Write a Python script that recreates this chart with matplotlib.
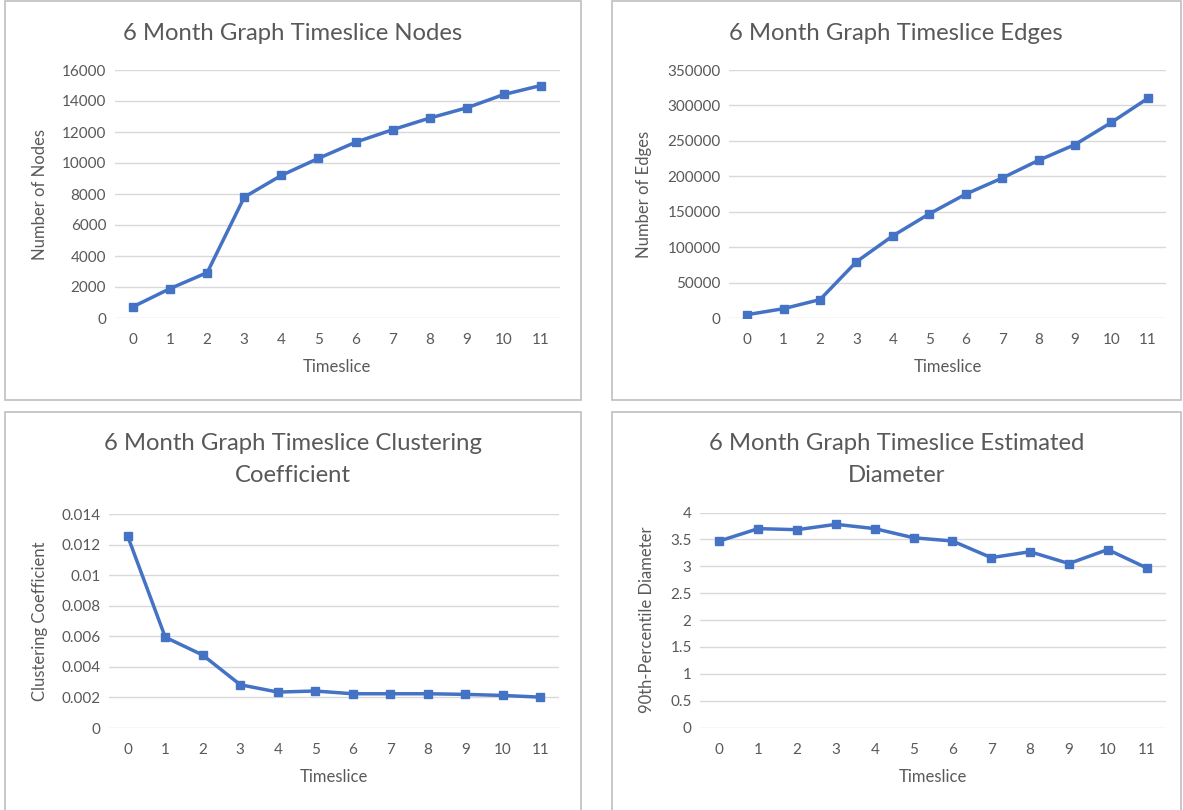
import matplotlib
matplotlib.use("Agg")
import matplotlib.pyplot as plt
from matplotlib.patches import Rectangle
import numpy as np

plt.rcParams['font.family'] = ['Lato', 'DejaVu Sans']

# ---- data ----
timeslices = list(range(12))
tick_labels = [str(t) for t in timeslices]

nodes = [730, 1900, 2930, 7800, 9200, 10300, 11340, 12150, 12900, 13560, 14420, 15000]
edges = [4700, 13200, 26000, 79400, 116000, 147000, 174800, 197500, 222500, 244700, 276000, 310000]
clustering = [0.01254, 0.00594, 0.00477, 0.00283, 0.00235, 0.00242, 0.00224, 0.00224,
              0.00224, 0.00220, 0.00213, 0.00202]
diameter = [3.47, 3.70, 3.68, 3.78, 3.70, 3.53, 3.47, 3.16, 3.27, 3.05, 3.31, 2.97]

titles = ["6 Month Graph Timeslice Nodes",
          "6 Month Graph Timeslice Edges",
          "6 Month Graph Timeslice Clustering\nCoefficient",
          "6 Month Graph Timeslice Estimated\nDiameter"]
ylabels = ["Number of Nodes", "Number of Edges", "Clustering Coefficient",
           "90th-Percentile Diameter"]
xlabel = "Timeslice"

node_ticks = [0, 2000, 4000, 6000, 8000, 10000, 12000, 14000, 16000]
edge_ticks = [0, 50000, 100000, 150000, 200000, 250000, 300000, 350000]
clust_ticks = [0, 0.002, 0.004, 0.006, 0.008, 0.01, 0.012, 0.014]
clust_tick_labels = ["0", "0.002", "0.004", "0.006", "0.008", "0.01", "0.012", "0.014"]
diam_ticks = [0, 0.5, 1, 1.5, 2, 2.5, 3, 3.5, 4]
diam_tick_labels = ["0", "0.5", "1", "1.5", "2", "2.5", "3", "3.5", "4"]

# ---- style ----
W, H = 1183, 810
TEXT = "#595959"
GRID = "#d9d9d9"
BORDER = "#bfbfbf"
LINE = "#4472C4"

fig = plt.figure(figsize=(W / 100, H / 100), dpi=100)
fig.patch.set_facecolor("white")


def fx(x):
    return x / W


def fy(y):
    return 1 - y / H


def axes_px(x0, y0, x1, y1):
    return fig.add_axes([fx(x0), fy(y1), (x1 - x0) / W, (y1 - y0) / H])


def border(x0, y0, x1, y1):
    fig.patches.append(Rectangle((fx(x0), fy(y1)), (x1 - x0) / W, (y1 - y0) / H,
                                 transform=fig.transFigure, fill=False,
                                 edgecolor=BORDER, linewidth=1.2))


panels = [
    dict(box=(4.5, 1.5, 581, 400), ax=(114.5, 70, 559.5, 318), vals=nodes,
         ticks=node_ticks, tl=[str(t) for t in node_ticks], ty=[33], ylx=40, xly=367),
    dict(box=(611.5, 1.5, 1181, 400), ax=(729, 70, 1166, 318), vals=edges,
         ticks=edge_ticks, tl=[str(t) for t in edge_ticks], ty=[33], ylx=644, xly=367),
    dict(box=(4.5, 411.5, 581, 812), ax=(109, 514, 559, 728), vals=clustering,
         ticks=clust_ticks, tl=clust_tick_labels, ty=[443, 475], ylx=40, xly=777),
    dict(box=(611.5, 411.5, 1181, 812), ax=(700, 512.5, 1166, 727.5), vals=diameter,
         ticks=diam_ticks, tl=diam_tick_labels, ty=[443, 475], ylx=647, xly=777),
]

for i, p in enumerate(panels):
    border(*p["box"])
    ax = axes_px(*p["ax"])
    ax.set_facecolor("none")
    ax.plot(timeslices, p["vals"], color=LINE, linewidth=2.5, marker="s",
            markersize=5.8, markerfacecolor=LINE, markeredgecolor=LINE, zorder=3,
            solid_joinstyle="round")
    ax.set_xlim(-0.5, 11.5)
    ax.set_ylim(p["ticks"][0], p["ticks"][-1])
    ax.set_yticks(p["ticks"])
    ax.set_yticklabels(p["tl"])
    ax.set_xticks(timeslices)
    ax.set_xticklabels(tick_labels)
    ax.grid(axis="y", color=GRID, linewidth=1.0)
    ax.set_axisbelow(True)
    for s in ax.spines.values():
        s.set_visible(False)
    ax.tick_params(axis="both", length=0, labelsize=11, labelcolor=TEXT)
    ax.tick_params(axis="y", pad=6)
    ax.tick_params(axis="x", pad=11)

    bx0, by0, bx1, by1 = p["box"]
    cx = (bx0 + bx1) / 2
    lines = titles[i].split("\n")
    for line, yy in zip(lines, p["ty"]):
        fig.text(fx(cx), fy(yy), line, ha="center", va="center", fontsize=17.2,
                 color=TEXT)
    ax_x0, ax_y0, ax_x1, ax_y1 = p["ax"]
    fig.text(fx(p["ylx"]), fy((ax_y0 + ax_y1) / 2), ylabels[i], rotation=90,
             ha="center", va="center", fontsize=12, color=TEXT)
    fig.text(fx((ax_x0 + ax_x1) / 2), fy(p["xly"]), xlabel, ha="center",
             va="center", fontsize=12, color=TEXT)

fig.savefig("out.png", dpi=100, facecolor="white")
